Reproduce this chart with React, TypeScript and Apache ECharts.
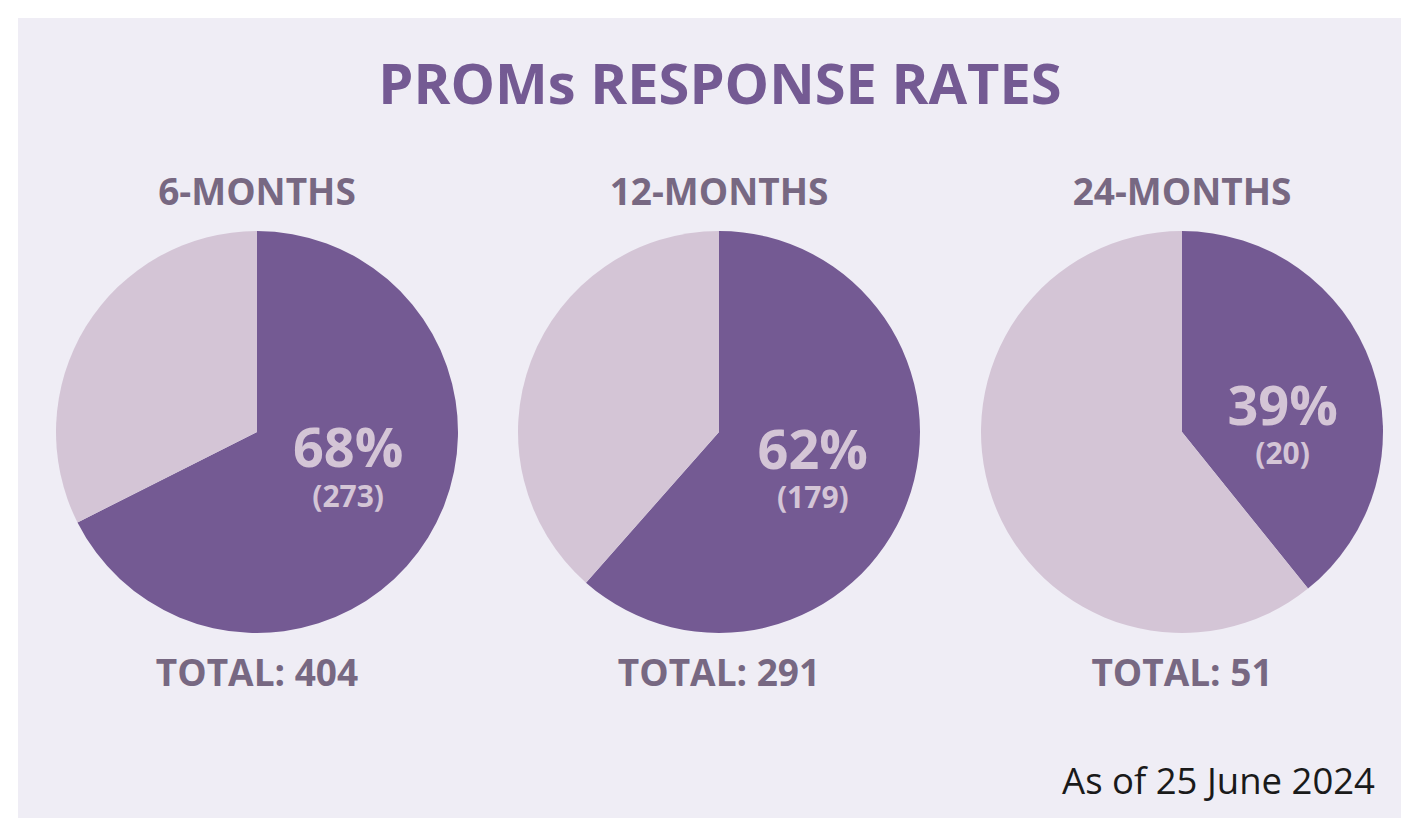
import React, { useEffect, useRef } from "react";
import * as echarts from "echarts";

const periods = ["6-MONTHS", "12-MONTHS", "24-MONTHS"];
const responded = [273, 179, 20];
const totals = [404, 291, 51];
const percents = [68, 62, 39];
const mainTitle = "PROMs RESPONSE RATES";
const footnote = "As of 25 June 2024";

const centersX = [257, 719, 1182];
const labelOffsets = [
  [3, -20],
  [-3, -1],
  [3, 26],
];

const DARK = "#745a93";
const LIGHT = "#d4c5d6";
const BG = "#efedf5";
const SUB = "#776882";
const FONT = "Open Sans";

export default function App() {
  const ref = useRef<HTMLDivElement>(null);
  useEffect(() => {
    if (!ref.current) return;
    const chart = echarts.init(ref.current, null, { renderer: "svg" });
    const series: any[] = periods.map((p, i) => ({
      type: "pie",
      center: [centersX[i], 432],
      radius: 201,
      startAngle: 90,
      clockwise: true,
      silent: true,
      avoidLabelOverlap: false,
      labelLine: { show: false },
      emphasis: { disabled: true },
      label: {
        show: true,
        position: "inside",
        formatter: `{p|${percents[i]}%}\n{n|(${responded[i]})}`,
        rich: {
          p: { fontSize: 54, fontWeight: 700, color: LIGHT, fontFamily: FONT, lineHeight: 58, align: "center" },
          n: { fontSize: 30, fontWeight: 700, color: LIGHT, fontFamily: FONT, lineHeight: 40, align: "center" },
        },
      },
      labelLayout: { dx: labelOffsets[i][0], dy: labelOffsets[i][1] },
      data: [
        { value: responded[i], name: "Responded", itemStyle: { color: DARK } },
        { value: totals[i] - responded[i], name: "Not responded", itemStyle: { color: LIGHT }, label: { show: false } },
      ],
    }));

    const texts: any[] = [
      {
        type: "rect",
        shape: { x: 18, y: 18, width: 1401 - 18, height: 818 - 18 },
        style: { fill: BG },
        z: -10,
        silent: true,
      },
      {
        type: "text",
        x: 720,
        y: 82,
        style: {
          text: mainTitle,
          fontSize: 56,
          fontWeight: 700,
          fontFamily: FONT,
          fill: DARK,
          textAlign: "center",
          textVerticalAlign: "middle",
        },
      },
      {
        type: "text",
        x: 1375,
        y: 780,
        style: {
          text: footnote,
          fontSize: 36.5,
          fontWeight: 400,
          fontFamily: FONT,
          fill: "#1a1a1a",
          textAlign: "right",
          textVerticalAlign: "middle",
        },
      },
    ];
    periods.forEach((p, i) => {
      texts.push({
        type: "text",
        x: centersX[i],
        y: 190,
        style: {
          text: p,
          fontSize: 37,
          fontWeight: 700,
          fontFamily: FONT,
          fill: SUB,
          textAlign: "center",
          textVerticalAlign: "middle",
        },
      });
      texts.push({
        type: "text",
        x: centersX[i],
        y: 671,
        style: {
          text: `TOTAL: ${totals[i]}`,
          fontSize: 37,
          fontWeight: 700,
          fontFamily: FONT,
          fill: SUB,
          textAlign: "center",
          textVerticalAlign: "middle",
        },
      });
    });

    chart.setOption({
      animation: false,
      backgroundColor: "#ffffff",
      graphic: texts,
      series,
    });
    return () => chart.dispose();
  }, []);
  return (
    <div
      ref={ref}
      style={{ position: "fixed", left: 0, top: 0, width: 1401, height: 818 }}
    />
  );
}
